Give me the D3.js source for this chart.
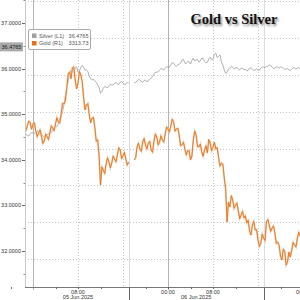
<!DOCTYPE html>
<html><head><meta charset="utf-8">
<script src="https://cdn.jsdelivr.net/npm/d3@7"></script>
<style>html,body{margin:0;padding:0;background:#fff;}svg{display:block;}</style>
</head><body>
<svg id="c" width="300" height="300"></svg>
<script>
// hours after 2025-06-05 00:00 (UTC), half-hour samples
const hours = [-1.5,-1,-0.5,0,0.5,1,1.5,2,2.5,3,3.5,4,4.5,5,5.5,6,6.5,7,7.5,8,8.5,9,9.5,10,10.5,11,11.5,12,12.5,13,13.5,14,14.5,15,15.5,16,16.5,17,17.5,18,18.5,19,19.5,20,20.5,21,21.5,22,22.5,23,23.5,24,24.5,25,25.5,26,26.5,27,27.5,28,28.5,29,29.5,30,30.5,31,31.5,32,32.5,33,33.5,34,34.5,35,35.5,36,36.5,37,37.5,38,38.5,39,39.5,40,40.5,41,41.5,42,42.5,43,43.5,44,44.5,45,45.5,46,46.5,47,47.5,48];
const silver = [34.50,34.54,34.56,34.59,34.61,34.59,34.54,34.50,34.54,34.59,34.65,34.72,34.78,34.94,35.20,35.57,35.90,35.92,36.01,35.92,36.03,36.03,35.97,35.84,35.75,35.73,35.64,35.46,35.57,35.59,35.62,35.64,35.68,35.66,35.70,35.68,35.66,35.68,null,35.70,35.73,35.75,35.70,35.75,35.73,35.79,35.88,35.92,35.97,35.99,36.01,36.03,36.08,36.12,36.05,36.10,36.19,36.12,36.16,36.10,36.23,36.19,36.14,36.23,36.16,36.14,36.25,36.21,36.34,36.27,36.14,35.97,35.92,36.01,36.03,36.01,35.99,36.01,35.97,35.95,36.01,35.99,35.97,35.97,36.01,36.03,36.05,36.08,36.03,36.01,36.03,36.03,36.01,35.99,35.97,35.99,36.01,36.01,35.99,36.01];
const gold = [3370.8,3372.5,3374.1,3373.4,3369.6,3368.5,3366.9,3364.1,3366.3,3368.5,3371.2,3373.4,3374.5,3378.8,3384.2,3392.9,3401.6,3403.8,3397.3,3395.7,3400.0,3387.5,3383.7,3378.3,3376.6,3371.2,3364.7,3340.2,3348.4,3351.6,3352.7,3352.2,3354.4,3356.5,3359.2,3356.0,3354.4,3352.7,null,3353.8,3360.9,3359.8,3363.6,3362.0,3363.0,3359.2,3364.1,3366.3,3363.6,3364.7,3367.9,3370.7,3372.3,3374.5,3370.7,3366.9,3362.0,3359.8,3358.7,3353.8,3364.7,3367.4,3360.9,3358.2,3359.2,3357.6,3363.0,3360.9,3359.8,3354.9,3352.2,3344.0,3320.1,3328.3,3332.1,3329.3,3326.1,3323.9,3322.3,3319.6,3315.2,3318.5,3315.8,3310.3,3308.7,3311.4,3320.1,3318.5,3316.8,3314.1,3309.2,3301.6,3305.4,3296.7,3303.8,3304.9,3307.6,3311.4,3312.5,3313.6];
// quarter-hour samples in between (intraday jitter)
const quarterHours = [-1.25,-0.75,-0.25,0.25,0.75,1.25,1.75,2.25,2.75,3.25,3.75,4.25,4.75,5.25,5.75,6.25,6.75,7.25,7.75,8.25,8.75,9.25,9.75,10.25,10.75,11.25,11.75,12.25,12.75,13.25,13.75,14.25,14.75,15.25,15.75,16.25,16.75,17.25,17.75,18.25,18.75,19.25,19.75,20.25,20.75,21.25,21.75,22.25,22.75,23.25,23.75,24.25,24.75,25.25,25.75,26.25,26.75,27.25,27.75,28.25,28.75,29.25,29.75,30.25,30.75,31.25,31.75,32.25,32.75,33.25,33.75,34.25,34.75,35.25,35.75,36.25,36.75,37.25,37.75,38.25,38.75,39.25,39.75,40.25,40.75,41.25,41.75,42.25,42.75,43.25,43.75,44.25,44.75,45.25,45.75,46.25,46.75,47.25,47.75];
const silverQ = [34.55,34.52,34.60,34.57,34.63,34.55,34.53,34.50,34.58,34.60,34.70,34.73,34.90,35.05,35.42,35.72,35.96,35.93,36.04,35.94,36.07,35.96,35.94,35.77,35.77,35.70,35.58,35.50,35.61,35.58,35.66,35.64,35.70,35.65,35.72,35.65,35.70,null,null,35.69,35.76,35.72,35.74,35.71,35.77,35.82,35.92,35.93,36.00,35.97,36.04,36.03,36.13,36.07,36.09,36.12,36.20,36.11,36.15,36.18,36.17,36.20,36.17,36.22,36.13,36.21,36.19,36.31,36.24,36.30,36.08,35.90,35.99,36.05,35.99,36.03,35.97,36.01,35.99,35.96,36.02,35.96,36.00,35.96,36.04,36.02,36.05,36.07,36.00,36.04,36.01,36.04,35.98,36.00,35.96,36.02,35.99,36.02,35.98];
const goldQ = [3369.9,3375.0,3370.5,3374.0,3366.5,3370.2,3362.8,3367.9,3364.9,3372.4,3369.8,3376.8,3373.9,3384.6,3386.0,3400.5,3398.0,3404.5,3392.5,3402.0,3396.5,3381.0,3384.5,3374.0,3377.0,3364.0,3356.0,3350.0,3346.5,3355.0,3349.5,3356.0,3352.8,3360.5,3354.5,3358.0,3351.0,null,null,3355.0,3363.0,3358.5,3365.5,3359.8,3364.0,3358.0,3368.0,3362.0,3367.0,3363.5,3371.8,3369.0,3376.0,3369.5,3371.0,3361.5,3363.5,3356.5,3359.0,3356.0,3369.5,3361.0,3362.5,3355.8,3361.5,3365.0,3358.8,3363.5,3360.5,3350.5,3351.5,3338.0,3331.0,3334.5,3327.5,3330.5,3321.8,3326.0,3323.5,3321.0,3313.0,3320.5,3316.0,3306.8,3313.5,3310.0,3321.5,3315.0,3318.0,3308.5,3307.5,3299.5,3304.0,3298.5,3301.0,3309.0,3306.5,3314.5,3311.0];

const silverTicks = [32,33,34,35,36,37];
const silverMinor = [31.5,32.5,33.5,34.5,35.5,36.5,37.5];
const goldGrid = [3300,3320,3340,3360,3380,3400,3420,3440];
const timeLabelHours = [8,24,32,48];
const timeLabels = ["08:00","00:00","08:00","00:00"];
const dateLabelHours = [8,29];
const dateLabels = ["05 Jun 2025","06 Jun 2025"];
const dottedHours = [8,16,32,40];
const dayHours = [0,24,48];
const sessionHours = [17,41];
const minorTickHours = [-4,4,12,20,28,36,44];
const legendItems = [{name:"Silver (L1)",value:"36.4765",color:"#a0a0a0"},{name:"Gold (R1)",value:"3313.73",color:"#e8701a"}];
const lastSilver = 36.4765;
const title = "Gold vs Silver";

const base = Date.UTC(2025,5,5,0,0);
const T = h => new Date(base + h*3600e3);

const svg = d3.select("#c");
const L = 25, R = 300, B = 287, TOP = 0;
const x = d3.scaleUtc().domain([T(0), T(48)]).range([33, 303]);
const yS = d3.scaleLinear().domain([32,37]).range([251,23]);
const yG = d3.scaleLinear().domain([3300,3400]).range([259,75]);

svg.append("defs").append("clipPath").attr("id","clip")
  .append("rect").attr("x",L).attr("y",TOP).attr("width",R-L).attr("height",B-TOP);

const grid = svg.append("g");
grid.selectAll(".hg").data(goldGrid).join("line")
  .attr("x1",L).attr("x2",R).attr("y1",d=>Math.round(yG(d))+0.5).attr("y2",d=>Math.round(yG(d))+0.5)
  .attr("stroke","#c4c4c4").attr("stroke-width",1).attr("stroke-dasharray","1,2");
grid.selectAll(".vg").data(dottedHours).join("line")
  .attr("x1",d=>Math.round(x(T(d)))+0.5).attr("x2",d=>Math.round(x(T(d)))+0.5).attr("y1",TOP).attr("y2",B)
  .attr("stroke","#c4c4c4").attr("stroke-width",1).attr("stroke-dasharray","1,2");
grid.selectAll(".dl").data(dayHours).join("line")
  .attr("x1",d=>Math.round(x(T(d)))+0.5).attr("x2",d=>Math.round(x(T(d)))+0.5).attr("y1",TOP).attr("y2",B+3)
  .attr("stroke","#b4b4b4").attr("stroke-width",1);
grid.selectAll(".sl").data(sessionHours).join("line")
  .attr("x1",d=>Math.round(x(T(d)))+0.5).attr("x2",d=>Math.round(x(T(d)))+0.5).attr("y1",TOP).attr("y2",B)
  .attr("stroke","#dcdcdc").attr("stroke-width",1);
grid.selectAll(".st").data(sessionHours).join("line")
  .attr("x1",d=>Math.round(x(T(d)))+0.5).attr("x2",d=>Math.round(x(T(d)))+0.5).attr("y1",B).attr("y2",300)
  .attr("stroke","#666").attr("stroke-width",1);

// merge half-hour and quarter-hour samples in time order
const merge = (vals, qvals) => hours.map((h,i)=>({h,v:vals[i]}))
  .concat(quarterHours.map((h,i)=>({h,v:qvals[i]})))
  .sort((a,b)=>a.h-b.h);
const sData = merge(silver, silverQ);
const gData = merge(gold, goldQ);

const plot = svg.append("g").attr("clip-path","url(#clip)");
const lineS = d3.line().defined(d=>d.v!=null).x(d=>x(T(d.h))).y(d=>yS(d.v));
const lineG = d3.line().defined(d=>d.v!=null).x(d=>x(T(d.h))).y(d=>yG(d.v));
plot.append("path").datum(sData).attr("d",lineS).attr("fill","none").attr("stroke","#9c9c9c").attr("stroke-width",0.8);
plot.append("path").datum(gData).attr("d",lineG).attr("fill","none").attr("stroke","#f0cfae").attr("stroke-width",1.8);
plot.append("path").datum(gData).attr("d",lineG).attr("fill","none").attr("stroke","#e8701a").attr("stroke-width",0.9);

// left axis
const font = "Liberation Sans, Arial, sans-serif";
svg.append("line").attr("x1",L+0.5).attr("x2",L+0.5).attr("y1",0).attr("y2",B).attr("stroke","#c8c8c8");
const la = svg.append("g");
la.selectAll(".mj").data(silverTicks).join("line")
  .attr("x1",L-3).attr("x2",L).attr("y1",d=>Math.round(yS(d))+0.5).attr("y2",d=>Math.round(yS(d))+0.5).attr("stroke","#666");
la.selectAll(".mn").data(silverMinor).join("line")
  .attr("x1",L-1.5).attr("x2",L).attr("y1",d=>Math.round(yS(d))+0.5).attr("y2",d=>Math.round(yS(d))+0.5).attr("stroke","#888");
la.selectAll("text").data(silverTicks).join("text")
  .attr("x",L-4).attr("y",d=>yS(d)).attr("dy","0.35em").attr("text-anchor","end")
  .attr("font-family",font).attr("font-size",5.5).attr("fill","#333").text(d=>d3.format(".4f")(d));
const ty = yS(lastSilver);
svg.append("rect").attr("x",0).attr("y",ty-4.5).attr("width",23).attr("height",9).attr("fill","#aaaaaa");
svg.append("text").attr("x",11.5).attr("y",ty).attr("dy","0.35em").attr("text-anchor","middle")
  .attr("font-family",font).attr("font-size",5.5).attr("fill","#222").text(d3.format(".4f")(lastSilver));

// x axis
svg.append("line").attr("x1",L).attr("x2",R).attr("y1",B+0.5).attr("y2",B+0.5).attr("stroke","#777");
svg.selectAll(".xt").data(minorTickHours.concat(timeLabelHours)).join("line")
  .attr("x1",d=>Math.round(x(T(d)))+0.5).attr("x2",d=>Math.round(x(T(d)))+0.5).attr("y1",B).attr("y2",B+2).attr("stroke","#666");
svg.selectAll(".xl").data(timeLabelHours).join("text")
  .attr("x",d=>x(T(d))).attr("y",B+6.5).attr("text-anchor","middle")
  .attr("font-family",font).attr("font-size",5.5).attr("fill","#333").text((d,i)=>timeLabels[i]);
svg.selectAll(".dlb").data(dateLabelHours).join("text")
  .attr("x",d=>x(T(d))).attr("y",B+12.3).attr("text-anchor","middle")
  .attr("font-family",font).attr("font-size",5.5).attr("fill","#333").text((d,i)=>dateLabels[i]);

// legend
const lg = svg.append("g");
lg.append("rect").attr("x",28.5).attr("y",29.5).attr("width",62).attr("height",20).attr("rx",1.5)
  .attr("fill","#fff").attr("stroke","#aaa");
legendItems.forEach((it,i)=>{
  const yy = 36 + i*7.5;
  lg.append("rect").attr("x",32).attr("y",yy-2.5).attr("width",4.5).attr("height",4.5).attr("fill",it.color);
  lg.append("text").attr("x",39).attr("y",yy).attr("dy","0.35em").attr("font-family",font).attr("font-size",5.5).attr("fill","#555").text(it.name);
  lg.append("text").attr("x",88.5).attr("y",yy).attr("dy","0.35em").attr("text-anchor","end").attr("font-family",font).attr("font-size",5.5).attr("fill","#555").text(it.value);
});

// title with shadow
const f = svg.select("defs").append("filter").attr("id","blur").attr("x","-10%").attr("y","-30%").attr("width","120%").attr("height","160%");
f.append("feGaussianBlur").attr("stdDeviation",0.9);
svg.append("text").attr("x",235.5).attr("y",25.5).attr("text-anchor","middle")
  .attr("font-family","Liberation Serif, Times New Roman, serif").attr("font-weight","bold").attr("font-size",14.5)
  .attr("fill","#888").attr("filter","url(#blur)").text(title);
svg.append("text").attr("x",234).attr("y",24).attr("text-anchor","middle")
  .attr("font-family","Liberation Serif, Times New Roman, serif").attr("font-weight","bold").attr("font-size",14.5)
  .attr("fill","#111").text(title);
</script>
</body></html>
